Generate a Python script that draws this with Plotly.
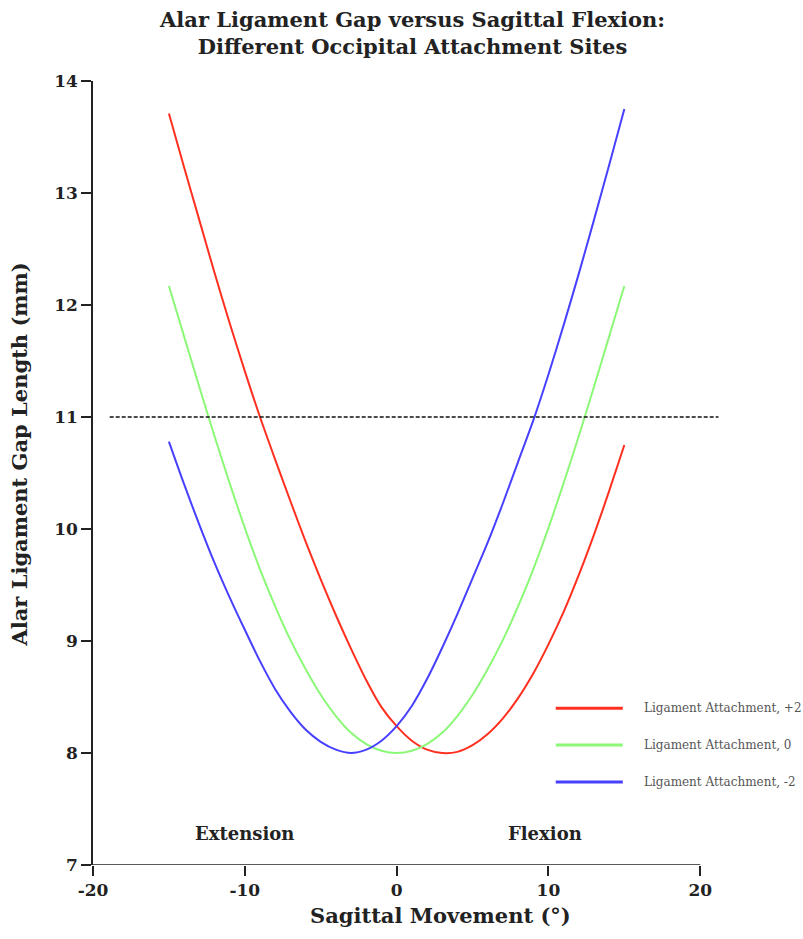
import plotly.graph_objects as go

# ---------------- data ----------------
angles = list(range(-15, 16))

gap_plus2 = [13.71, 13.23, 12.76, 12.29, 11.84, 11.41, 11.00, 10.62, 10.25, 9.89,
             9.55, 9.23, 8.93, 8.65, 8.41, 8.24, 8.11, 8.03, 8.00, 8.01,
             8.07, 8.17, 8.31, 8.49, 8.71, 8.97, 9.26, 9.59, 9.95, 10.34, 10.75]

gap_zero = [12.17, 11.72, 11.27, 10.83, 10.41, 10.01, 9.64, 9.31, 9.01, 8.75,
            8.52, 8.33, 8.18, 8.08, 8.02, 8.00, 8.02, 8.08, 8.18, 8.33,
            8.52, 8.75, 9.01, 9.31, 9.64, 10.01, 10.41, 10.83, 11.27, 11.72, 12.17]

gap_minus2 = [10.78, 10.40, 10.04, 9.70, 9.39, 9.10, 8.82, 8.57, 8.37, 8.21,
              8.10, 8.03, 8.00, 8.03, 8.11, 8.24, 8.42, 8.66, 8.94, 9.24,
              9.56, 9.88, 10.23, 10.60, 10.97, 11.38, 11.82, 12.28, 12.76, 13.25, 13.75]

series_names = ["Ligament Attachment, +2", "Ligament Attachment, 0", "Ligament Attachment, -2"]
series_colors = ["rgb(255,48,32)", "rgb(140,248,120)", "rgb(72,64,255)"]

threshold_x = [-18.9, 21.2]
threshold_y = [11, 11]

x_ticks = [-20, -10, 0, 10, 20]
x_tick_labels = ["-20", "-10", "0", "10", "20"]
y_ticks = [7, 8, 9, 10, 11, 12, 13, 14]

region_labels = ["Extension", "Flexion"]
region_x = [-10, 9.8]
region_y = [7.17, 7.17]

title_text = "Alar Ligament Gap versus Sagittal Flexion:<br>Different Occipital Attachment Sites"
x_title = "Sagittal Movement (°)"
y_title = "Alar Ligament Gap Length (mm)"

# ---------------- figure ----------------
SERIF = "DejaVu Serif, Liberation Serif, serif"
INK = "#222"
fig = go.Figure()

for vals, name, col in zip([gap_plus2, gap_zero, gap_minus2], series_names, series_colors):
    fig.add_trace(go.Scatter(x=angles, y=vals, mode="lines", name=name,
                             line=dict(color=col, width=2, shape="spline", smoothing=0.8),
                             showlegend=False))

fig.add_trace(go.Scatter(x=threshold_x, y=threshold_y, mode="lines", showlegend=False,
                         line=dict(color="#111", width=1.4, dash="4px,2px")))

# x-axis line only from -20 to 20
fig.add_shape(type="line", xref="x", yref="y", x0=x_ticks[0], x1=x_ticks[-1],
              y0=y_ticks[0], y1=y_ticks[0], line=dict(color=INK, width=1.5))

for lab, xx, yy in zip(region_labels, region_x, region_y):
    fig.add_annotation(x=xx, y=yy, xref="x", yref="y", text=lab, showarrow=False,
                       yanchor="bottom",
                       font=dict(family=SERIF, size=18, color=INK, weight="bold"))

# custom legend
leg_y = [0.200, 0.153, 0.106]
for name, col, ly in zip(series_names, series_colors, leg_y):
    fig.add_shape(type="line", xref="paper", yref="paper", x0=0.738, x1=0.845,
                  y0=ly, y1=ly, line=dict(color=col, width=3))
    fig.add_annotation(xref="paper", yref="paper", x=0.876, y=ly, text=name,
                       showarrow=False, xanchor="left", yanchor="middle",
                       font=dict(family=SERIF, size=12, color="#555"))

# title as annotation (two lines)
fig.add_annotation(xref="paper", yref="paper", x=0.509, y=1.097, text=title_text,
                   showarrow=False, xanchor="center", yanchor="top",
                   font=dict(family=SERIF, size=21, color=INK, weight="bold"))

fig.add_annotation(xref="paper", yref="paper", x=-0.117, y=0.523, text=y_title,
                   textangle=-90, showarrow=False, xanchor="center", yanchor="middle",
                   font=dict(family=SERIF, size=21, color=INK, weight="bold"))

fig.add_annotation(xref="paper", yref="paper", x=0.555, y=-0.064, text=x_title,
                   showarrow=False, xanchor="center", yanchor="middle",
                   font=dict(family=SERIF, size=21, color=INK, weight="bold"))

fig.update_layout(
    width=803, height=939,
    margin=dict(l=93, r=83, t=81, b=74),
    paper_bgcolor="white", plot_bgcolor="white",
    xaxis=dict(range=[-20, 21.3], tickvals=x_ticks, ticktext=x_tick_labels,
               showline=False, showgrid=False,
               zeroline=False, ticks="outside", ticklen=10, tickwidth=1.5, tickcolor=INK,
               tickfont=dict(family=SERIF, size=17, color=INK, weight="bold")),
    yaxis=dict(range=[7, 14], tickvals=y_ticks, showline=True, linecolor=INK, linewidth=1.5,
               showgrid=False, zeroline=False, ticks="outside", ticklen=10, tickwidth=1.5,
               tickcolor=INK,
               tickfont=dict(family=SERIF, size=17, color=INK, weight="bold")),
)

fig.write_html("out.html")
